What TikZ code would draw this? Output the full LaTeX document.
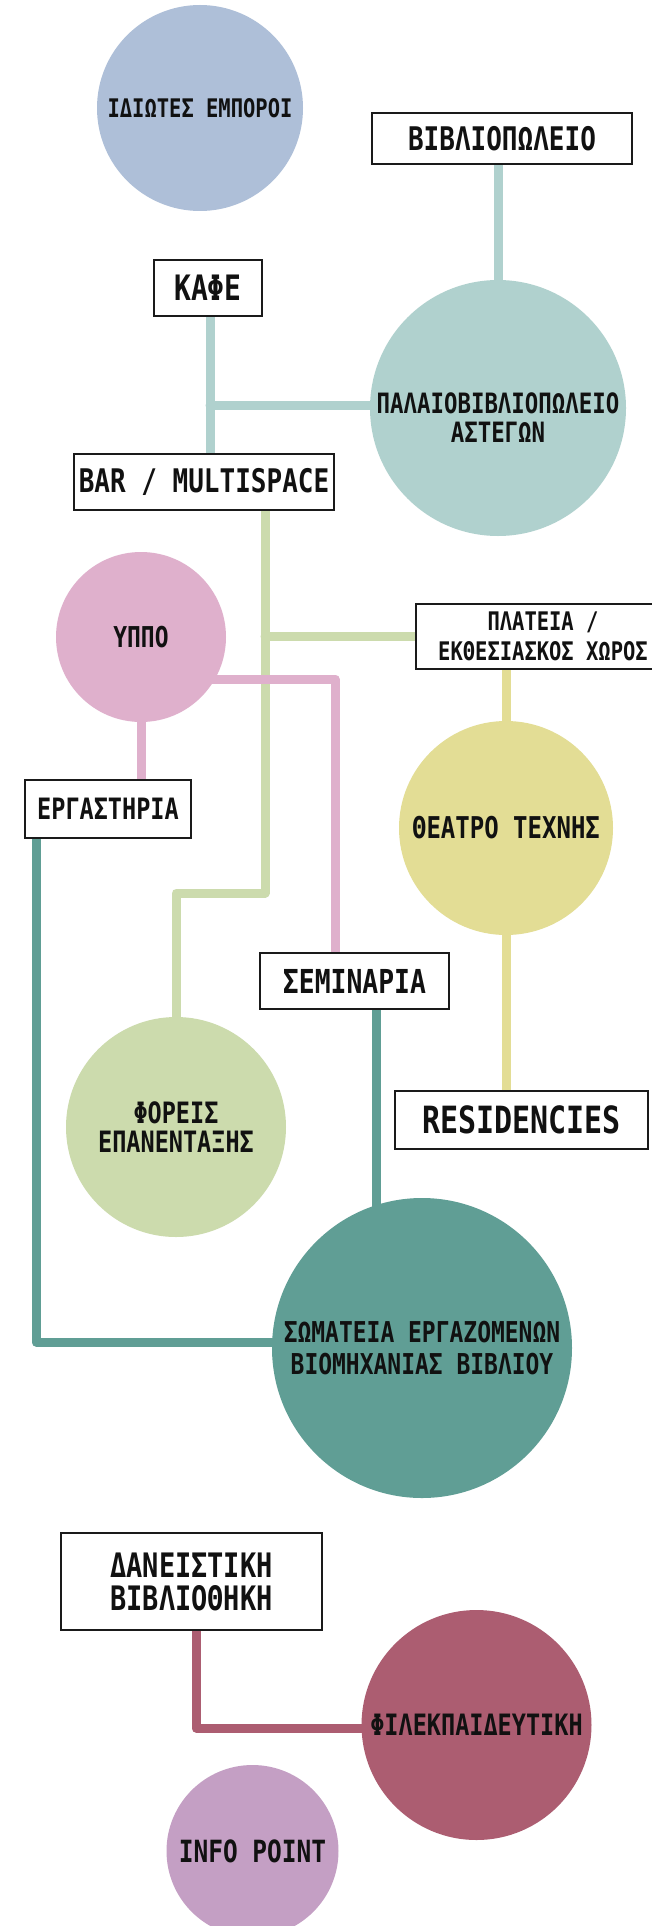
\documentclass[tikz,border=0pt]{standalone}
\usepackage{fontspec}
\newfontfamily\dmono{DejaVu Sans Mono}[FakeStretch=0.8]
\newcommand\gfont[2]{\dmono\bfseries\fontsize{#1}{#2}\selectfont}
\definecolor{cblue}{HTML}{AEBFD8}
\definecolor{cteal}{HTML}{B0D1CE}
\definecolor{cpink}{HTML}{DFB0CC}
\definecolor{cgreen}{HTML}{CCDBAD}
\definecolor{cyellow}{HTML}{E3DD95}
\definecolor{cdteal}{HTML}{609E95}
\definecolor{cmaroon}{HTML}{AC5D71}
\definecolor{clilac}{HTML}{C49FC4}
\definecolor{txt}{HTML}{111111}
\definecolor{bord}{HTML}{1A1A1A}
\pgfdeclarelayer{bg}
\pgfsetlayers{bg,main}
\begin{document}
\begin{tikzpicture}[x=1pt,y=-1pt,
  bubble/.style={circle, inner sep=0pt, align=center, text=txt},
  tag/.style={draw=bord, line width=2pt, fill=white, inner sep=0pt, align=center, text=txt},
  link/.style={line width=9pt, line cap=round, line join=round}]
\useasboundingbox (0,0) rectangle (652,1926);
\clip (0,0) rectangle (652,1926);

\node[bubble, fill=cblue, minimum size=206pt, font=\gfont{25.6}{30}] (idiotes) at (200,108) {ΙΔΙΩΤΕΣ ΕΜΠΟΡΟΙ};
\node[tag, minimum width=260pt, minimum height=51pt, font=\gfont{32.5}{36}] (biblio) at (502,138.5) {ΒΙΒΛΙΟΠΩΛΕΙΟ};
\node[bubble, fill=cteal, minimum size=256pt, font=\gfont{28}{28}] (palaio) at (498,408) {\raisebox{-14pt}[\height][\depth]{\begin{tabular}{@{}c@{}}ΠΑΛΑΙΟΒΙΒΛΙΟΠΩΛΕΙΟ\\ΑΣΤΕΓΩΝ\end{tabular}}};
\node[tag, minimum width=108pt, minimum height=56pt, font=\gfont{35}{40}] (kafe) at (208,288) {ΚΑΦΕ};
\node[tag, minimum width=260pt, minimum height=56pt, font=\gfont{32.5}{36}] (bar) at (204,482) {BAR / MULTISPACE};
\node[bubble, fill=cpink, minimum size=170pt, font=\gfont{28.7}{32}] (ypo) at (141,637) {ΥΠΠΟ};
\node[tag, minimum width=254pt, minimum height=65pt, font=\gfont{25.6}{30}] (plateia) at (543,636.5) {ΠΛΑΤΕΙΑ /\\ΕΚΘΕΣΙΑΣΚΟΣ ΧΩΡΟΣ};
\node[bubble, fill=cyellow, minimum size=214pt, font=\gfont{30}{34}] (theatro) at (506,828) {ΘΕΑΤΡΟ ΤΕΧΝΗΣ};
\node[tag, minimum width=166pt, minimum height=58pt, font=\gfont{29.4}{34}] (ergast) at (108,809) {ΕΡΓΑΣΤΗΡΙΑ};
\node[tag, minimum width=189pt, minimum height=56pt, font=\gfont{33}{36}] (semin) at (354.5,981) {ΣΕΜΙΝΑΡΙΑ};
\node[bubble, fill=cgreen, minimum size=220pt, font=\gfont{29.4}{29}] (foreis) at (176,1127) {ΦΟΡΕΙΣ\\ΕΠΑΝΕΝΤΑΞΗΣ};
\node[tag, minimum width=253pt, minimum height=58pt, font=\gfont{37.5}{40}] (resid) at (521.5,1120) {RESIDENCIES};
\node[bubble, fill=cdteal, minimum size=300pt, font=\gfont{28.7}{32}] (somateia) at (422,1348) {ΣΩΜΑΤΕΙΑ ΕΡΓΑΖΟΜΕΝΩΝ\\ΒΙΟΜΗΧΑΝΙΑΣ ΒΙΒΛΙΟΥ};
\node[tag, minimum width=261pt, minimum height=97pt, font=\gfont{33.7}{33}] (danei) at (191.5,1581.5) {ΔΑΝΕΙΣΤΙΚΗ\\ΒΙΒΛΙΟΘΗΚΗ};
\node[bubble, fill=cmaroon, minimum size=230pt, font=\gfont{29.4}{32}] (filek) at (476.5,1725) {ΦΙΛΕΚΠΑΙΔΕΥΤΙΚΗ};
\node[bubble, fill=clilac, minimum size=172pt, font=\gfont{30.6}{34}] (info) at (252.5,1851) {INFO POINT};

\coordinate (k1) at (210,405);
\coordinate (g1) at (265,893);
\coordinate (p1) at (335,679);
\coordinate (t1) at (36,1342);
\coordinate (t2) at (376,1260);
\coordinate (m1) at (196,1728);

\begin{pgfonlayer}{bg}
\fill[white] (0,0) rectangle (652,1926);
\draw[link, cteal] (biblio.south -| palaio) -- (palaio);
\draw[link, cteal] (k1 |- kafe.south) -- (k1 |- bar.north);
\draw[link, cteal] (k1) -- (palaio |- k1);
\draw[link, cgreen] (g1 |- bar.south) -- (g1) -| (foreis.north);
\draw[link, cgreen] (g1 |- plateia.west) -- (plateia.west);
\draw[link, cyellow] (theatro |- plateia.south) -- (theatro) -- (theatro |- resid.north);
\draw[link, cpink] (ypo |- p1) -- (p1) -- (p1 |- semin.north);
\draw[link, cpink] (ypo) -- (ypo |- ergast.north);
\draw[link, cdteal] (t1 |- ergast.south) -- (t1) -- (somateia |- t1);
\draw[link, cdteal] (t2 |- semin.south) -- (t2 |- somateia);
\draw[link, cmaroon] (m1 |- danei.south) -- (m1) -- (filek |- m1);
\end{pgfonlayer}
\end{tikzpicture}
\end{document}
